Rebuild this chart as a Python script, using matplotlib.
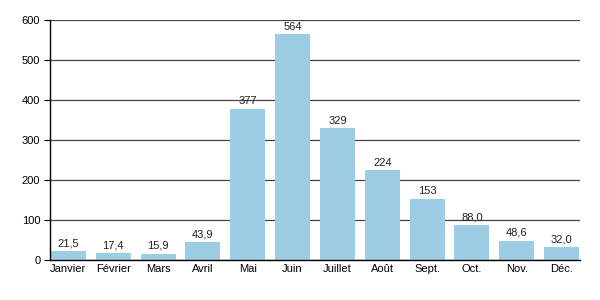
import matplotlib
matplotlib.use('Agg')
import matplotlib.pyplot as plt

plt.rcParams['font.family'] = ['Liberation Sans', 'DejaVu Sans']

mois = ['Janvier', 'Février', 'Mars', 'Avril', 'Mai', 'Juin', 'Juillet',
        'Août', 'Sept.', 'Oct.', 'Nov.', 'Déc.']
valeurs = [21.5, 17.4, 15.9, 43.9, 377, 564, 329, 224, 153, 88.0, 48.6, 32.0]
etiquettes = ['21,5', '17,4', '15,9', '43,9', '377', '564', '329', '224',
              '153', '88,0', '48,6', '32,0']

fig = plt.figure(figsize=(6, 3), dpi=100)
ax = fig.add_axes([50/600, 40/300, 530/600, 240/300])

x = range(len(mois))
bars = ax.bar(x, valeurs, width=0.78, color='#9ccde4', zorder=2)
for b, t in zip(bars, etiquettes):
    ax.text(b.get_x() + b.get_width()/2, b.get_height() + 7, t,
            ha='center', va='bottom', fontsize=8, color='#222222', zorder=3)

ax.set_xlim(-0.41, 11.41)
ax.set_ylim(0, 600)
ax.set_yticks(range(0, 601, 100))
ax.set_xticks(list(x))
ax.set_xticklabels(mois)
ax.yaxis.grid(True, color='#444444', linewidth=0.9, zorder=1)
ax.tick_params(axis='y', length=4, width=0.8, labelsize=8, pad=3)
ax.tick_params(axis='x', length=0, labelsize=8, pad=3)
for s in ['top', 'right']:
    ax.spines[s].set_visible(False)
ax.spines['left'].set_linewidth(1)
ax.spines['bottom'].set_linewidth(1)

fig.savefig('out.png', dpi=100)
